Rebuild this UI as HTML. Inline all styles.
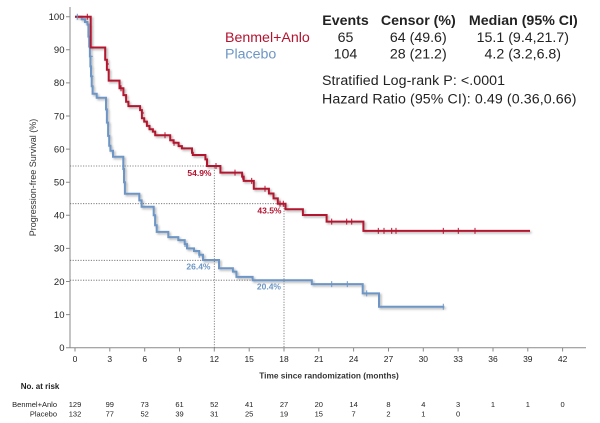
<!DOCTYPE html>
<html><head><meta charset="utf-8"><style>
html,body{margin:0;padding:0;background:#fff;}
svg{display:block;font-family:"Liberation Sans",Arial,sans-serif;}
</style></head><body>
<svg width="600" height="423" viewBox="0 0 600 423" xmlns="http://www.w3.org/2000/svg">
<defs>
<filter id="sh" x="-10%" y="-10%" width="120%" height="120%">
<feDropShadow dx="1.5" dy="1.5" stdDeviation="1" flood-color="#555" flood-opacity="0.45"/>
</filter>
</defs>
<rect width="600" height="423" fill="#fff"/>
<!-- axes -->
<g stroke="#8a8a8a" stroke-width="1" fill="none">
<line x1="70" y1="7" x2="70" y2="347.7"/>
<line x1="70" y1="347.7" x2="586" y2="347.7"/>
<path d="M66,16.7H70M66,49.8H70M66,82.9H70M66,116H70M66,149.1H70M66,182.2H70M66,215.3H70M66,248.4H70M66,281.5H70M66,314.6H70M66,347.7H70"/>
<path d="M75,347.7V351.5M109.8,347.7V351.5M144.7,347.7V351.5M179.5,347.7V351.5M214.3,347.7V351.5M249.2,347.7V351.5M284,347.7V351.5M318.8,347.7V351.5M353.6,347.7V351.5M388.5,347.7V351.5M423.3,347.7V351.5M458.1,347.7V351.5M493,347.7V351.5M527.8,347.7V351.5M562.6,347.7V351.5"/>
</g>
<!-- y tick labels -->
<g font-size="9.5" fill="#222" text-anchor="end">
<text x="64.5" y="20">100</text><text x="64.5" y="53.1">90</text><text x="64.5" y="86.2">80</text><text x="64.5" y="119.3">70</text><text x="64.5" y="152.4">60</text><text x="64.5" y="185.5">50</text><text x="64.5" y="218.6">40</text><text x="64.5" y="251.7">30</text><text x="64.5" y="284.8">20</text><text x="64.5" y="317.9">10</text><text x="64.5" y="351">0</text>
</g>
<text transform="translate(36,177.5) rotate(-90)" text-anchor="middle" font-size="9" fill="#333">Progression-free Survival (%)</text>
<!-- x tick labels -->
<g font-size="8.5" fill="#222" text-anchor="middle">
<text x="75" y="362">0</text><text x="109.8" y="362">3</text><text x="144.7" y="362">6</text><text x="179.5" y="362">9</text><text x="214.3" y="362">12</text><text x="249.2" y="362">15</text><text x="284" y="362">18</text><text x="318.8" y="362">21</text><text x="353.6" y="362">24</text><text x="388.5" y="362">27</text><text x="423.3" y="362">30</text><text x="458.1" y="362">33</text><text x="493" y="362">36</text><text x="527.8" y="362">39</text><text x="562.6" y="362">42</text>
</g>
<text x="329" y="378.5" text-anchor="middle" font-size="8.3" font-weight="bold" fill="#333">Time since randomization (months)</text>
<!-- dotted reference lines -->
<g stroke="#666" stroke-width="0.8" stroke-dasharray="1.2,1.4" fill="none">
<path d="M70,166H214.3V347.7"/>
<path d="M70,203.7H284V347.7"/>
<path d="M70,260.3H214.3"/>
<path d="M70,280.2H284"/>
</g>
<!-- curves -->
<g filter="url(#sh)" fill="none" stroke-width="2">
<path stroke="#6d96c6" d="M75,16.7H81.7V19.3H85V22H87.5V24.6H88.4V36.6H89.2V46.5H89.9V56.4H90.4V66.4H91V76.3H91.7V86.2H92.6V93.8H96.7V97.8H106V109.4H106.9V122.6H108.1V135.9H109.2V145.8H110.4V150.8H113V156.7H123.3V169H124V182.2H124.9V193.8H139.3V200.4H141.6V206.7H153.7V215.3H155.1V225.2H156.7V231.9H168.3V237.1H178.3V240.1H184.7V244.1H187V248.4H194V251H199.2V254.7H203V260H219V268.3H232.9V271.6H236.4V276.9H252.6V280.2H311.8V284.1H362.7V293.4H379V306.7H444.3"/>
<path stroke="#b3132f" d="M75,16.7H90.7V47.5H105.2V59.7H106.9V69.7H108.7V80.6H119.5V88.2H123.4V95.1H126.1V101.8H128.4V106.1H140.1V110.1H141.9V118.3H144.2V121.6H146.9V125.9H149.5V129.2H152.9V131.6H155.2V135.2H170.2V140.2H173.6V142.8H178.6V146.1H181.9V148.4H192V152.7H192.8V155H205.4V159.4H207V166H220.4V172.6H242.1V176.6H243.7V180.9H253.8V188.8H268.9V193.5H273.5V198.4H277.8V203.7H285.5V209.3H302.9V215H326.6V221.6H363.4V230.9H530"/>
</g>
<!-- censor ticks -->
<g stroke="#6d96c6" stroke-width="1">
<path d="M77.3,13.7v6M89.8,56.4h3M90.4,76.3h3M185,241v6M199.2,251.7v6M331.7,281.1v6M347.3,281.1v6M366.7,290.4v6M443.3,303.7v6"/>
</g>
<g stroke="#b3132f" stroke-width="1">
<path d="M87.3,13.7v6M106,64h3M121,85.2v6M141,113h3M165,132.2v6M174,139.8v6M216,163v6M235,169.6v6M242.7,173.6v6M251.7,177.9v6M265,185.8v6M280,200.7v6M283.3,200.7v6M331.7,218.6v6M346.7,218.6v6M351.7,218.6v6M378.3,227.9v6M384,227.9v6M391.7,227.9v6M396,227.9v6M443.3,227.9v6M458.3,227.9v6M475,227.9v6"/>
</g>
<!-- percent labels -->
<g font-size="8.5" font-weight="bold" text-anchor="end">
<text x="211.5" y="176" fill="#b3132f">54.9%</text>
<text x="281.5" y="213.7" fill="#b3132f">43.5%</text>
<text x="210.5" y="269.7" fill="#6d96c6">26.4%</text>
<text x="281" y="289.7" fill="#6d96c6">20.4%</text>
</g>
<!-- legend -->
<g font-size="14.2" fill="#222">
<g font-weight="bold" text-anchor="middle">
<text x="345.5" y="25">Events</text>
<text x="418.3" y="25">Censor (%)</text>
<text x="523.3" y="25">Median (95% CI)</text>
</g>
<text x="225" y="41.8" fill="#b3132f">Benmel+Anlo</text>
<text x="225" y="58.4" fill="#6d96c6">Placebo</text>
<g text-anchor="middle">
<text x="345.5" y="41.8">65</text><text x="418.3" y="41.8">64 (49.6)</text><text x="522.8" y="41.8">15.1 (9.4,21.7)</text>
<text x="345.5" y="58.4">104</text><text x="418.3" y="58.4">28 (21.2)</text><text x="522.8" y="58.4">4.2 (3.2,6.8)</text>
</g>
<text x="322" y="85" textLength="183">Stratified Log-rank P: &lt;.0001</text>
<text x="322" y="103.3" textLength="254.5">Hazard Ratio (95% CI): 0.49 (0.36,0.66)</text>
</g>
<!-- risk table -->
<text x="20.7" y="389" font-size="8" font-weight="bold" fill="#222">No. at risk</text>
<g font-size="7.5" fill="#222">
<text x="57" y="407" text-anchor="end">Benmel+Anlo</text>
<text x="57" y="416.4" text-anchor="end">Placebo</text>
<g text-anchor="middle">
<text x="75" y="407">129</text><text x="109.8" y="407">99</text><text x="144.7" y="407">73</text><text x="179.5" y="407">61</text><text x="214.3" y="407">52</text><text x="249.2" y="407">41</text><text x="284" y="407">27</text><text x="318.8" y="407">20</text><text x="353.6" y="407">14</text><text x="388.5" y="407">8</text><text x="423.3" y="407">4</text><text x="458.1" y="407">3</text><text x="493" y="407">1</text><text x="527.8" y="407">1</text><text x="562.6" y="407">0</text>
<text x="75" y="416.4">132</text><text x="109.8" y="416.4">77</text><text x="144.7" y="416.4">52</text><text x="179.5" y="416.4">39</text><text x="214.3" y="416.4">31</text><text x="249.2" y="416.4">25</text><text x="284" y="416.4">19</text><text x="318.8" y="416.4">15</text><text x="353.6" y="416.4">7</text><text x="388.5" y="416.4">2</text><text x="423.3" y="416.4">1</text><text x="458.1" y="416.4">0</text>
</g>
</g>
</svg>
</body></html>
